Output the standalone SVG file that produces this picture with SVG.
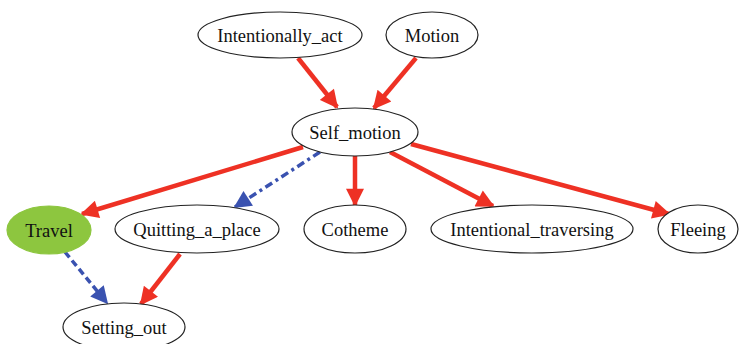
<svg xmlns="http://www.w3.org/2000/svg" width="743" height="344" viewBox="0 0 743 344">
<style>
.n ellipse{fill:#fff;stroke:#222;stroke-width:1.2}
.n text{font-family:'Liberation Serif','Times New Roman',Times,serif;font-size:18.5px;fill:#111;text-anchor:middle}
.r{stroke:#ee3124;stroke-width:4.5;fill:none}
.b{stroke:#3a52b0;stroke-width:3.5;fill:none}
.bd{stroke-dasharray:7,4}
.bdd{stroke-dasharray:8,4,3,4}
</style>
<defs>
<marker id="ar" viewBox="0 0 10 10" refX="9" refY="5" markerWidth="4.5" markerHeight="4" markerUnits="strokeWidth" orient="auto"><path d="M0,0L10,5L0,10z" fill="#ee3124"/></marker>
<marker id="ab" viewBox="0 0 10 10" refX="9" refY="5" markerWidth="5.5" markerHeight="5" markerUnits="strokeWidth" orient="auto"><path d="M0,0L10,5L0,10z" fill="#3a52b0"/></marker>
</defs>
<g id="connectors">
<line class="r" x1="298" y1="58" x2="337" y2="107" marker-end="url(#ar)"/>
<line class="r" x1="416" y1="58" x2="374" y2="108" marker-end="url(#ar)"/>
<line class="r" x1="303" y1="147" x2="82" y2="214" marker-end="url(#ar)"/>
<line class="b bdd" x1="320" y1="152" x2="235" y2="207" marker-end="url(#ab)"/>
<line class="r" x1="355" y1="156" x2="355" y2="205" marker-end="url(#ar)"/>
<line class="r" x1="390" y1="152" x2="493" y2="206" marker-end="url(#ar)"/>
<line class="r" x1="411" y1="144" x2="669" y2="214" marker-end="url(#ar)"/>
<line class="b bd" x1="65" y1="252" x2="107" y2="303" marker-end="url(#ab)"/>
<line class="r" x1="180" y1="254" x2="141" y2="304" marker-end="url(#ar)"/>
</g>
<g id="Intentionally_act" class="n"><ellipse cx="280" cy="35" rx="82" ry="23"/><text x="280" y="42">Intentionally_act</text></g>
<g id="Motion" class="n"><ellipse cx="432" cy="35" rx="46" ry="23"/><text x="432" y="42">Motion</text></g>
<g id="Self_motion" class="n"><ellipse cx="355" cy="132" rx="63" ry="24"/><text x="355" y="139">Self_motion</text></g>
<g id="Travel" class="n"><ellipse cx="49" cy="230" rx="42" ry="24" style="fill:#8dc63f;stroke:#8dc63f"/><text x="49" y="237">Travel</text></g>
<g id="Quitting_a_place" class="n"><ellipse cx="197" cy="229" rx="82" ry="24"/><text x="197" y="236">Quitting_a_place</text></g>
<g id="Cotheme" class="n"><ellipse cx="355" cy="229" rx="51" ry="24"/><text x="355" y="236">Cotheme</text></g>
<g id="Intentional_traversing" class="n"><ellipse cx="532" cy="229" rx="101" ry="24"/><text x="532" y="236">Intentional_traversing</text></g>
<g id="Fleeing" class="n"><ellipse cx="698" cy="229" rx="40" ry="24"/><text x="698" y="236">Fleeing</text></g>
<g id="Setting_out" class="n"><ellipse cx="124" cy="327" rx="61" ry="24"/><text x="124" y="334">Setting_out</text></g>
</svg>
